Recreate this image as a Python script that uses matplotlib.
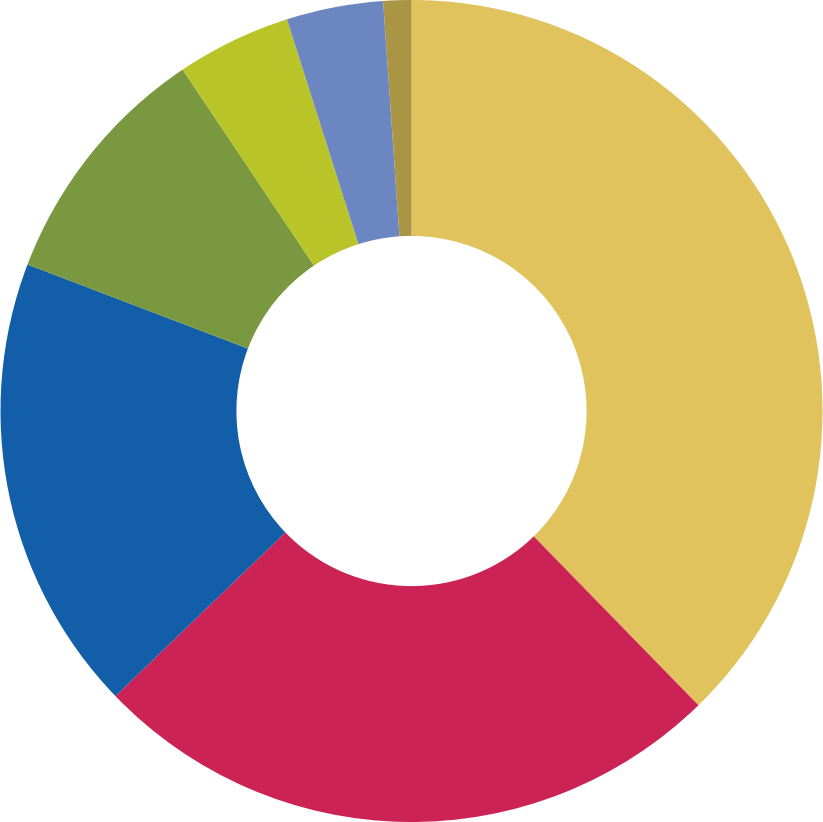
import matplotlib
matplotlib.use("Agg")
import matplotlib.pyplot as plt

# slice shares (%), clockwise from 12 o'clock
labels = ["A", "B", "C", "D", "E", "F", "G"]
values = [37.7, 25.1, 18.0, 9.8, 4.5, 3.8, 1.1]
colors = ["#E0C35C", "#CC2356", "#125EA8", "#79983F", "#B8C428", "#6B86C1", "#AA9545"]

fig = plt.figure(figsize=(8.23, 8.22), dpi=100)
ax = fig.add_axes([0, 0, 1, 1])
ax.pie(
    values,
    colors=colors,
    startangle=90,
    counterclock=False,
    radius=1.0,
    wedgeprops=dict(width=0.574, edgecolor="none", linewidth=0),
)
ax.set_xlim(-1.0, 1.0)
ax.set_ylim(-1.0, 1.0)
ax.set_aspect("equal")
ax.axis("off")

fig.savefig("out.png", dpi=100, facecolor="white")
